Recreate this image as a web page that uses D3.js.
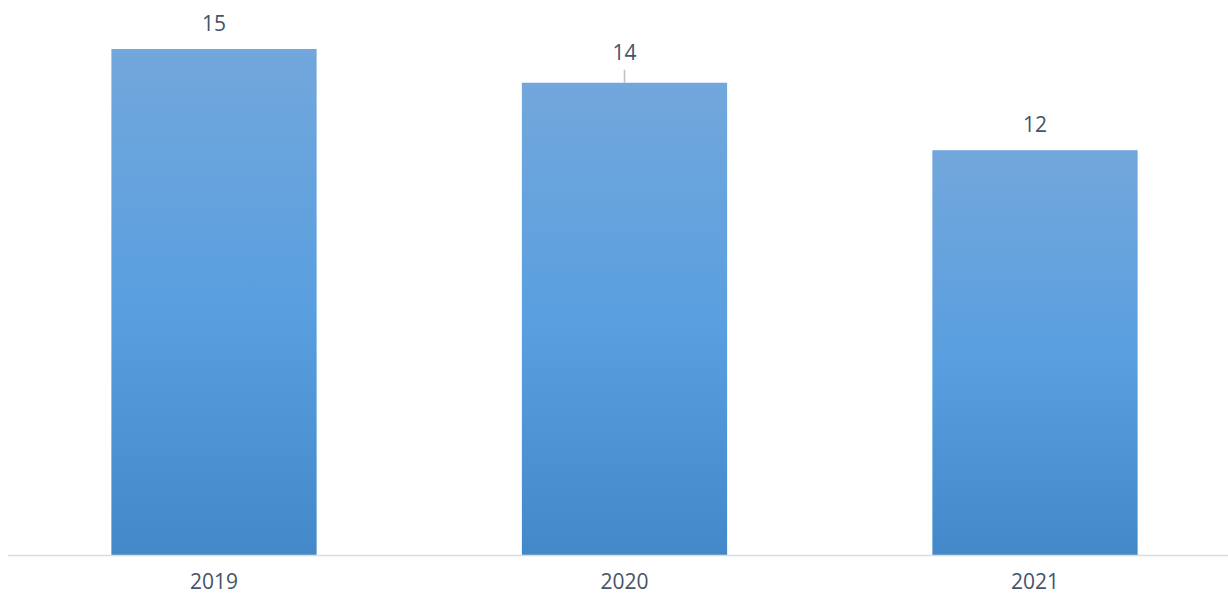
<!DOCTYPE html>
<html>
<head>
<meta charset="utf-8">
<script src="https://cdn.jsdelivr.net/npm/d3@7"></script>
<style>
  body { margin: 0; background: #fff; }
  text { font-family: "Open Sans", "Liberation Sans", sans-serif; fill: #44546a; }
</style>
</head>
<body>
<div class="grafico"></div>
<script>
var anios = ['2019', '2020', '2021'];
var valores = [15, 14, 12];

var ancho = 1228, alto = 596;

var svg = d3.select('.grafico')
  .append('svg')
  .attr('width', ancho)
  .attr('height', alto);

var defs = svg.append('defs');
var grad = defs.append('linearGradient')
  .attr('id', 'relleno')
  .attr('x1', 0).attr('y1', 0)
  .attr('x2', 0).attr('y2', 1);
grad.append('stop').attr('offset', '0%').attr('stop-color', '#72a7dc');
grad.append('stop').attr('offset', '50%').attr('stop-color', '#5a9fdf');
grad.append('stop').attr('offset', '100%').attr('stop-color', '#4389c9');

const xScale = d3.scaleBand()
  .domain(anios)
  .range([8.75, 1240.25])
  .paddingInner(0.5)
  .paddingOuter(0.25);

const yScale = d3.scaleLinear()
  .domain([0, 15])
  .range([555, 49]);

// barras
svg.append('g')
  .selectAll('rect')
  .data(valores)
  .enter()
  .append('rect')
  .attr('x', (d, i) => xScale(anios[i]))
  .attr('y', d => yScale(d))
  .attr('width', xScale.bandwidth())
  .attr('height', d => yScale(0) - yScale(d))
  .attr('fill', 'url(#relleno)');

// eje
svg.append('line')
  .attr('x1', 8).attr('x2', ancho)
  .attr('y1', yScale(0) + 0.5).attr('y2', yScale(0) + 0.5)
  .attr('stroke', '#d9dde3')
  .attr('stroke-width', 1.5);

svg.append('g')
  .selectAll('text')
  .data(anios)
  .enter()
  .append('text')
  .attr('x', d => xScale(d) + xScale.bandwidth() / 2)
  .attr('y', 589)
  .attr('text-anchor', 'middle')
  .attr('font-size', 21)
  .text(d => d);

// etiquetas (la de 2020 esta desplazada y lleva linea guia)
var desplazo = [18, 23, 18];

svg.append('g')
  .selectAll('text')
  .data(valores)
  .enter()
  .append('text')
  .attr('x', (d, i) => xScale(anios[i]) + xScale.bandwidth() / 2)
  .attr('y', (d, i) => yScale(d) - desplazo[i])
  .attr('text-anchor', 'middle')
  .attr('font-size', 21)
  .text(d => d);

svg.append('line')
  .attr('x1', xScale('2020') + xScale.bandwidth() / 2)
  .attr('x2', xScale('2020') + xScale.bandwidth() / 2)
  .attr('y1', yScale(14) - 13)
  .attr('y2', yScale(14))
  .attr('stroke', '#bfbfbf')
  .attr('stroke-width', 1.5);
</script>
</body>
</html>
